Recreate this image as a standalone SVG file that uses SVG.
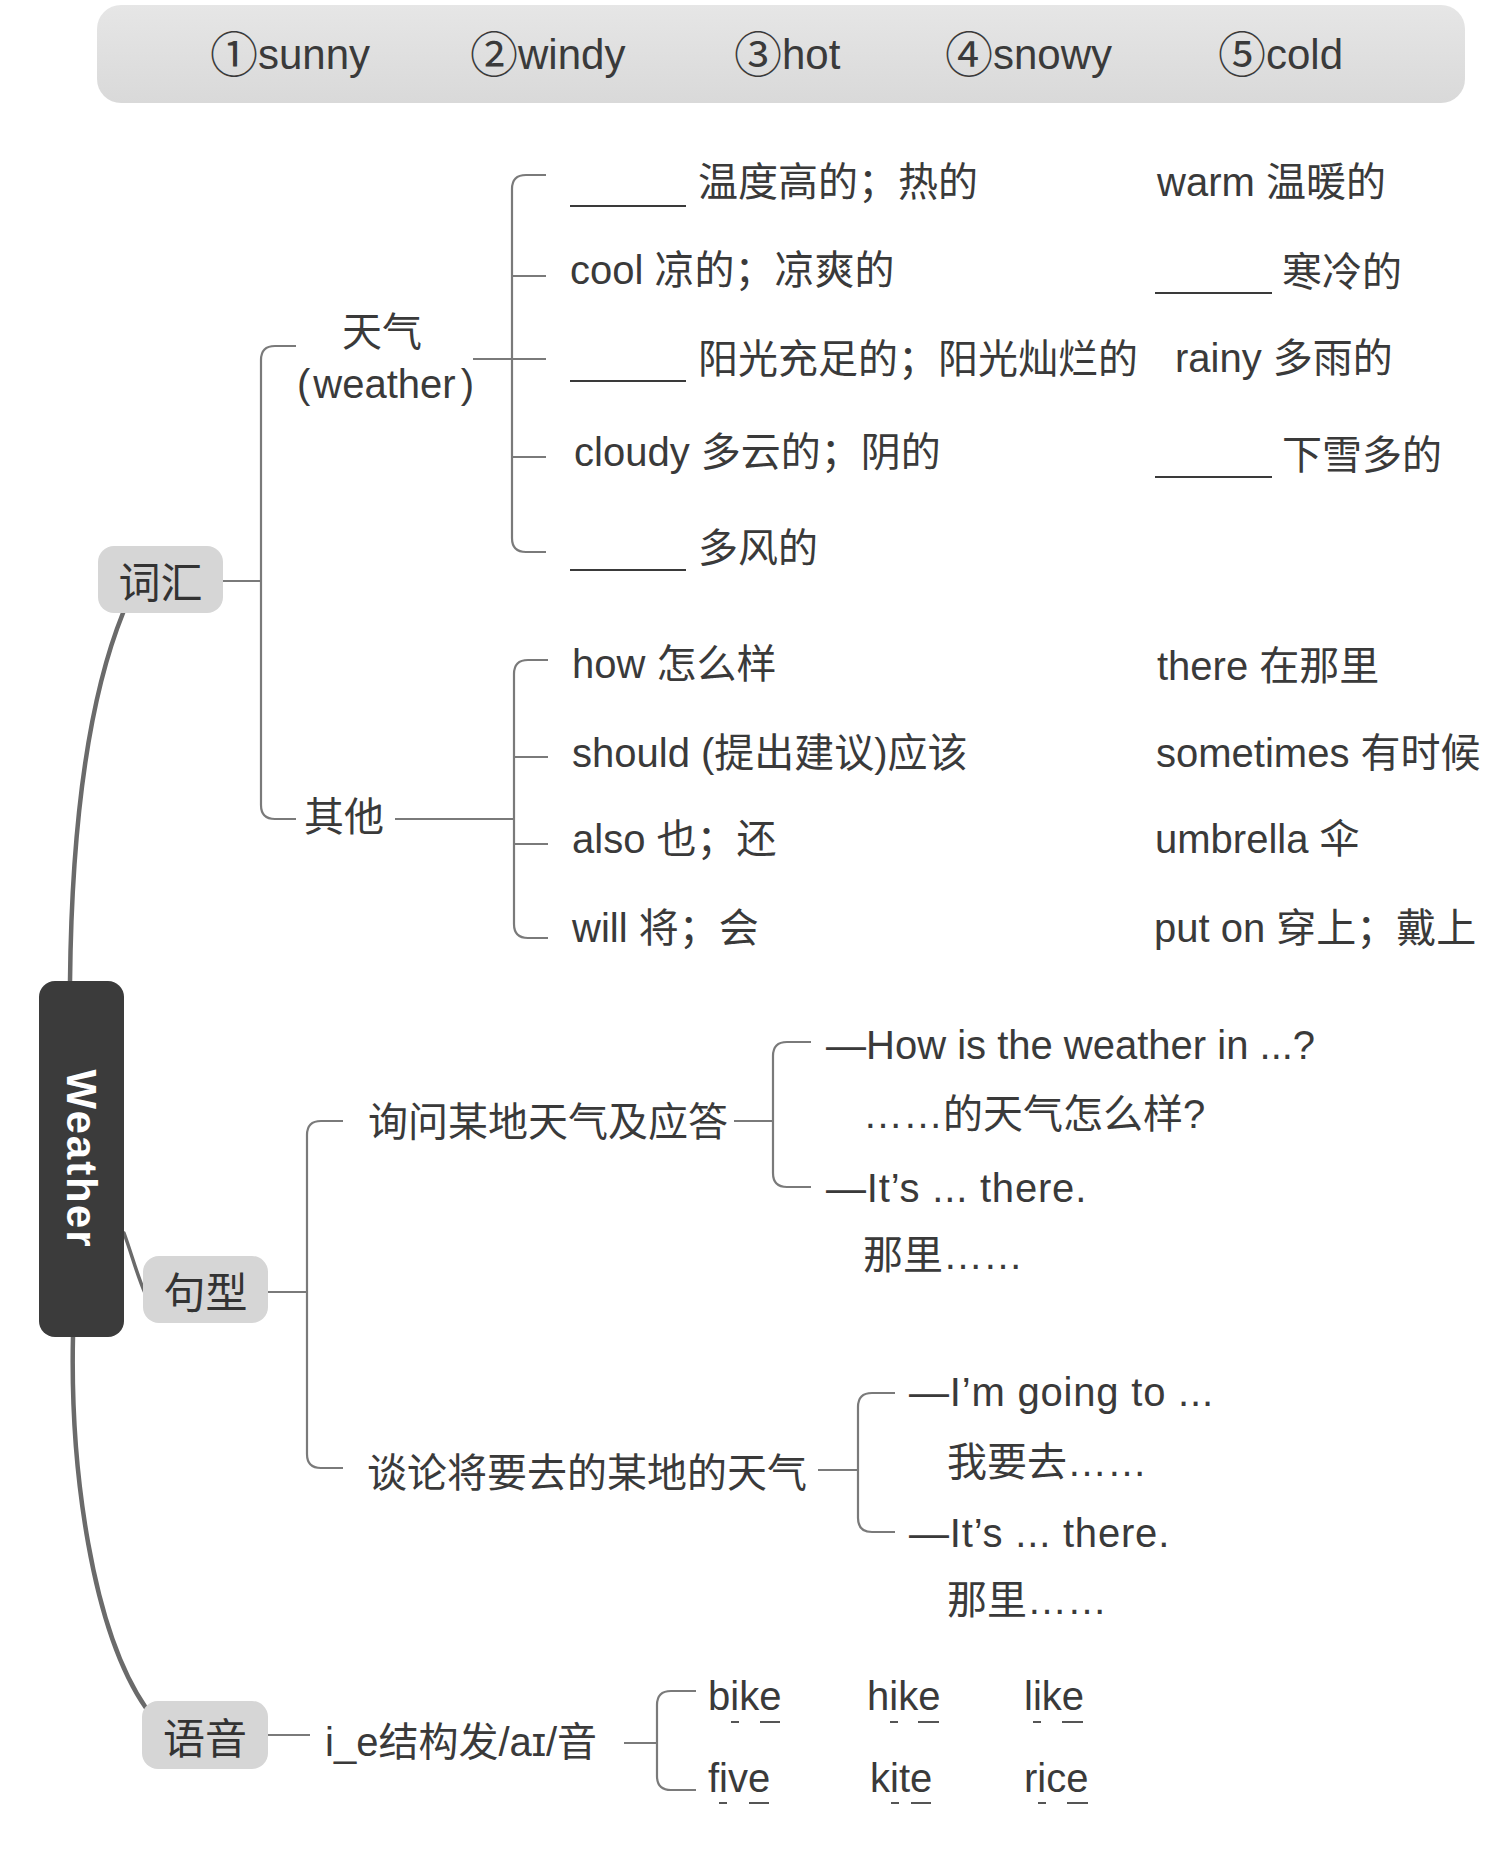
<svg xmlns="http://www.w3.org/2000/svg" width="1506" height="1868" viewBox="0 0 1506 1868">
<defs>
<linearGradient id="band" x1="0" y1="0" x2="0" y2="1">
<stop offset="0" stop-color="#e6e6e6"/>
<stop offset="1" stop-color="#d9d9d9"/>
</linearGradient>
</defs>
<style>
.t{font-family:"Liberation Sans","Noto Sans CJK SC",sans-serif;font-size:40px;fill:#3a3a3a}
.e{letter-spacing:0.8px}
.h{font-family:"Liberation Sans","Noto Sans CJK SC",sans-serif;font-size:42px;fill:#3a3a3a}
.c{font-family:"Noto Sans CJK SC",sans-serif;font-size:48px}
.nt{font-family:"Noto Sans CJK SC",sans-serif;font-size:42px;fill:#333;text-anchor:middle;dominant-baseline:central}
.node{fill:#d6d6d6}
.ln{fill:none;stroke:#7a7a7a;stroke-width:2.2}
.sp{fill:none;stroke:#6a6a6a;stroke-width:4.5;stroke-linecap:round}
.bl{stroke:#3a3a3a;stroke-width:2.2}
.ul{stroke:#555;stroke-width:2}
</style>
<rect width="1506" height="1868" fill="#ffffff"/>

<g id="header">
<rect x="97" y="5" width="1368" height="98" rx="24" fill="url(#band)"/>
<text class="h" x="210" y="69"><tspan class="c" dy="3">①</tspan><tspan dy="-3">sunny</tspan></text>
<text class="h" x="470" y="69"><tspan class="c" dy="3">②</tspan><tspan dy="-3">windy</tspan></text>
<text class="h" x="734" y="69"><tspan class="c" dy="3">③</tspan><tspan dy="-3">hot</tspan></text>
<text class="h" x="945" y="69"><tspan class="c" dy="3">④</tspan><tspan dy="-3">snowy</tspan></text>
<text class="h" x="1218" y="69"><tspan class="c" dy="3">⑤</tspan><tspan dy="-3">cold</tspan></text>
</g>

<g id="connectors">
<path class="sp" d="M123,613 C96,680 72,790 70,982"/>
<path class="sp" d="M73,1336 C70,1470 92,1630 146,1708"/>
<path class="sp" d="M124,1233 C132,1255 137,1275 145,1293" style="stroke-width:3.5"/>
<path class="ln" d="M223,581 H261"/>
<path class="ln" d="M296,346 H275 Q261,346 261,360 V805 Q261,819 275,819 H296"/>
<path class="ln" d="M473,359 H546"/>
<path class="ln" d="M546,175 H526 Q512,175 512,189 V538 Q512,552 526,552 H546"/>
<path class="ln" d="M512,276 H546 M512,457 H546"/>
<path class="ln" d="M395,819 H514"/>
<path class="ln" d="M548,660 H528 Q514,660 514,674 V924 Q514,938 528,938 H548"/>
<path class="ln" d="M514,757 H548 M514,844 H548"/>
<path class="ln" d="M268,1292 H307"/>
<path class="ln" d="M343,1121 H321 Q307,1121 307,1135 V1454 Q307,1468 321,1468 H343"/>
<path class="ln" d="M734,1121 H773"/>
<path class="ln" d="M811,1042 H787 Q773,1042 773,1056 V1173 Q773,1187 787,1187 H811"/>
<path class="ln" d="M818,1470 H858"/>
<path class="ln" d="M895,1393 H872 Q858,1393 858,1407 V1518 Q858,1532 872,1532 H895"/>
<path class="ln" d="M268,1735 H310"/>
<path class="ln" d="M624,1743 H657"/>
<path class="ln" d="M696,1691 H671 Q657,1691 657,1705 V1776 Q657,1790 671,1790 H696"/>
</g>

<g id="weather">
<rect x="39" y="981" width="85" height="356" rx="16" fill="#3b3b3b"/>
<text transform="translate(81.5,1159) rotate(90)" text-anchor="middle" dominant-baseline="central" font-family="Liberation Sans, sans-serif" font-weight="bold" font-size="42" letter-spacing="2" fill="#ffffff">Weather</text>
</g>

<g id="cihui">
<rect class="node" x="98" y="546" width="125" height="67" rx="16"/>
<text class="nt" x="160.5" y="579">词汇</text>
</g>
<g id="juxing">
<rect class="node" x="143" y="1256" width="125" height="67" rx="16"/>
<text class="nt" x="205.5" y="1289">句型</text>
</g>
<g id="yuyin">
<rect class="node" x="142" y="1701" width="126" height="68" rx="16"/>
<text class="nt" x="205" y="1735">语音</text>
</g>

<g id="tianqi">
<text class="t" x="382" y="346" text-anchor="middle">天气</text>
<text class="t" x="297" y="398">(<tspan dx="3">weather</tspan><tspan dx="5">)</tspan></text>
</g>

<g id="tianqi-words">
<line class="bl" x1="570" y1="206" x2="686" y2="206"/>
<text class="t" x="698" y="196">温度高的；热的</text>
<text class="t" x="570" y="284">cool 凉的；凉爽的</text>
<line class="bl" x1="570" y1="381" x2="686" y2="381"/>
<text class="t" x="698" y="373">阳光充足的；阳光灿烂的</text>
<text class="t" x="574" y="466">cloudy 多云的；阴的</text>
<line class="bl" x1="570" y1="570" x2="686" y2="570"/>
<text class="t" x="698" y="562">多风的</text>
<text class="t" x="1157" y="196">warm 温暖的</text>
<line class="bl" x1="1155" y1="293" x2="1272" y2="293"/>
<text class="t" x="1282" y="286">寒冷的</text>
<text class="t" x="1175" y="372">rainy 多雨的</text>
<line class="bl" x1="1155" y1="477" x2="1272" y2="477"/>
<text class="t" x="1282" y="469">下雪多的</text>
</g>

<g id="qita">
<text class="t" x="304" y="831">其他</text>
</g>
<g id="qita-words">
<text class="t" x="572" y="678">how 怎么样</text>
<text class="t" x="572" y="767">should (提出建议)应该</text>
<text class="t" x="572" y="853">also 也；还</text>
<text class="t" x="572" y="942">will 将；会</text>
<text class="t" x="1157" y="680">there 在那里</text>
<text class="t" x="1156" y="767">sometimes 有时候</text>
<text class="t" x="1155" y="853">umbrella 伞</text>
<text class="t" x="1154" y="942">put on 穿上；戴上</text>
</g>

<g id="ask">
<text class="t" x="368" y="1136">询问某地天气及应答</text>
</g>
<g id="ask-lines">
<text class="t" x="826" y="1059">—How is the weather in ...?</text>
<text class="t" x="863" y="1128">……的天气怎么样?</text>
<text class="t e" x="826" y="1202">—It’s ... there.</text>
<text class="t" x="863" y="1269">那里……</text>
</g>

<g id="talk">
<text class="t" x="367" y="1487">谈论将要去的某地的天气</text>
</g>
<g id="talk-lines">
<text class="t e" x="909" y="1406">—I’m going to ...</text>
<text class="t" x="947" y="1476">我要去……</text>
<text class="t e" x="909" y="1547">—It’s ... there.</text>
<text class="t" x="947" y="1614">那里……</text>
</g>

<g id="ie">
<text class="t" x="325" y="1756" font-size="41">i_e结构发/aɪ/音</text>
</g>
<g id="ie-words">
<text class="t" x="708" y="1710">bike</text>
<text class="t" x="867" y="1710">hike</text>
<text class="t" x="1024" y="1710">like</text>
<text class="t" x="708" y="1792">five</text>
<text class="t" x="870" y="1792">kite</text>
<text class="t" x="1024" y="1792">rice</text>
<path class="ul" d="M731,1722 H739 M760,1722 H780 M890,1722 H898 M918,1722 H939 M1033,1722 H1041 M1062,1722 H1083"/>
<path class="ul" d="M719,1803 H727 M749,1803 H769 M891,1803 H899 M911,1803 H931 M1038,1803 H1046 M1067,1803 H1088"/>
</g>
</svg>
